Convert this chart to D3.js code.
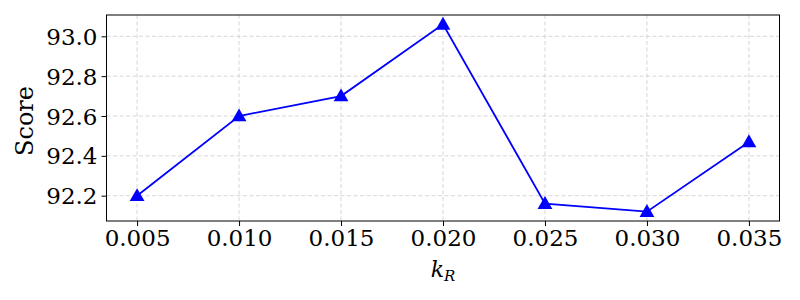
<!DOCTYPE html>
<html>
<head>
<meta charset="utf-8">
<script src="https://cdn.jsdelivr.net/npm/d3@7"></script>
<style>
  body { margin: 0; background: #fff; }
  text { font-family: "DejaVu Serif", serif; fill: #000; }
</style>
</head>
<body>
<div id="chart"></div>
<script>
// values
const kValues = [0.005, 0.010, 0.015, 0.020, 0.025, 0.030, 0.035];
const scores = [92.20, 92.60, 92.70, 93.06, 92.16, 92.12, 92.47];
const xTicks = [0.005, 0.010, 0.015, 0.020, 0.025, 0.030, 0.035];
const yTicks = [92.2, 92.4, 92.6, 92.8, 93.0];

const width = 800;
const height = 300;
const margin = { top: 15, right: 20.5, bottom: 79, left: 106.5 };
const innerW = width - margin.left - margin.right;
const innerH = height - margin.top - margin.bottom;

const svg = d3.select("#chart")
  .append("svg")
  .attr("width", width)
  .attr("height", height);

const g = svg.append("g")
  .attr("transform", `translate(${margin.left},${margin.top})`);

// matplotlib style 5% padding
function padded(ext) {
  const pad = (ext[1] - ext[0]) * 0.05;
  return [ext[0] - pad, ext[1] + pad];
}

const x = d3.scaleLinear()
  .domain(padded(d3.extent(kValues)))
  .range([0, innerW]);

const y = d3.scaleLinear()
  .domain(padded(d3.extent(scores)))
  .range([innerH, 0]);

// grid
g.append("g")
  .selectAll("line")
  .data(xTicks)
  .enter()
  .append("line")
  .attr("x1", d => x(d)).attr("x2", d => x(d))
  .attr("y1", 0).attr("y2", innerH)
  .attr("stroke", "#cccccc")
  .attr("stroke-width", 0.8)
  .attr("stroke-dasharray", "4,2.5");

g.append("g")
  .selectAll("line")
  .data(yTicks)
  .enter()
  .append("line")
  .attr("x1", 0).attr("x2", innerW)
  .attr("y1", d => y(d)).attr("y2", d => y(d))
  .attr("stroke", "#cccccc")
  .attr("stroke-width", 0.8)
  .attr("stroke-dasharray", "4,2.5");

// axes
const xAxis = d3.axisBottom(x)
  .tickValues(xTicks)
  .tickFormat(d3.format(".3f"))
  .tickSize(5)
  .tickSizeOuter(0)
  .tickPadding(4);

const yAxis = d3.axisLeft(y)
  .tickValues(yTicks)
  .tickFormat(d3.format(".1f"))
  .tickSize(5)
  .tickSizeOuter(0)
  .tickPadding(4);

const gx = g.append("g")
  .attr("transform", `translate(0,${innerH})`)
  .call(xAxis);
const gy = g.append("g").call(yAxis);

[gx, gy].forEach(a => {
  a.select(".domain").remove();
  a.selectAll("text")
    .style("font-family", "'DejaVu Serif', serif")
    .style("font-size", "23px")
    .attr("fill", "#000");
  a.selectAll("line").attr("stroke", "#000").attr("stroke-width", 1);
});
gy.selectAll("text").attr("dy", "0.35em");

// frame
g.append("rect")
  .attr("x", 0).attr("y", 0)
  .attr("width", innerW).attr("height", innerH)
  .attr("fill", "none")
  .attr("stroke", "#000")
  .attr("stroke-width", 1);

// line + markers
const line = d3.line()
  .x((d, i) => x(kValues[i]))
  .y(d => y(d));

g.append("path")
  .datum(scores)
  .attr("d", line)
  .attr("fill", "none")
  .attr("stroke", "#0000ff")
  .attr("stroke-width", 1.8);

g.append("g")
  .selectAll("path")
  .data(scores)
  .enter()
  .append("path")
  .attr("d", d3.symbol().type(d3.symbolTriangle).size(95))
  .attr("transform", (d, i) => `translate(${x(kValues[i])},${y(d) + 1})`)
  .attr("fill", "#0000ff");

// labels
svg.append("text")
  .attr("transform", `translate(33,${margin.top + innerH / 2 + 3}) rotate(-90)`)
  .attr("text-anchor", "middle")
  .style("font-size", "24px")
  .text("Score");

const xl = svg.append("text")
  .attr("x", margin.left + innerW / 2)
  .attr("y", 277)
  .attr("text-anchor", "middle")
  .style("font-size", "22px")
  .style("font-style", "italic");
xl.append("tspan").text("k");
xl.append("tspan")
  .attr("dy", 4)
  .style("font-size", "15px")
  .text("R");
</script>
</body>
</html>
